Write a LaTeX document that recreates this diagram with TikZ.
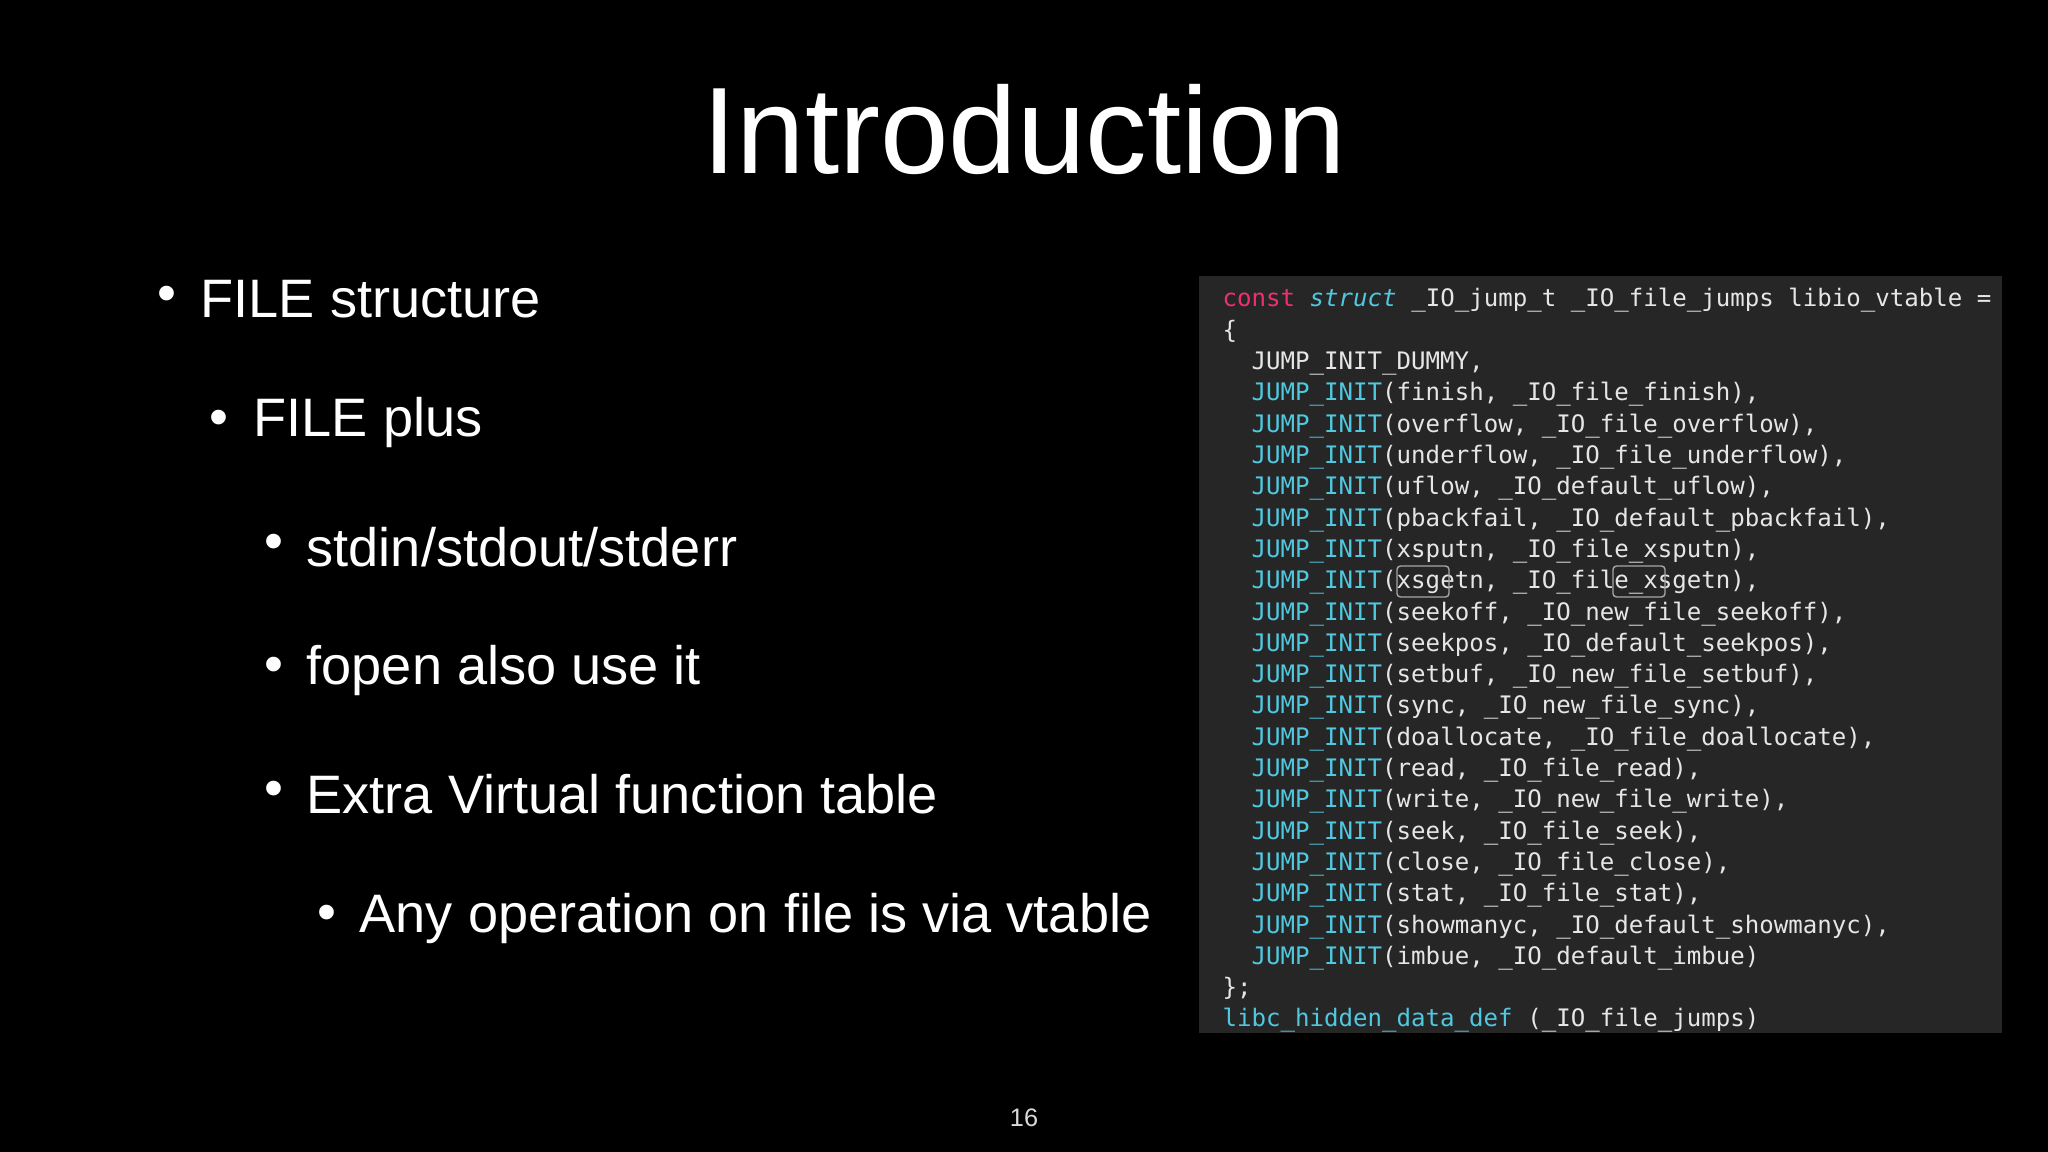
\documentclass[tikz,border=0pt]{standalone}
\usepackage{fontspec}
\setmainfont{Liberation Sans}
\setmonofont{DejaVu Sans Mono}
\usepackage{tikz}
\definecolor{codebg}{HTML}{262626}
\definecolor{codefg}{HTML}{E6E6E6}
\definecolor{keyc}{HTML}{F0306E}
\definecolor{jumpc}{HTML}{4FC8E0}
\newcommand\J{\textcolor{jumpc}{JUMP\_INIT}}
\tikzset{
  item/.style={anchor=west,inner sep=0pt,text=white,font=\fontsize{15.4}{18}\selectfont},
  codeline/.style={anchor=base west,inner sep=0pt,text=codefg,font=\ttfamily\fontsize{6.85}{8}\selectfont},
}
\begin{document}
\begin{tikzpicture}[x=0.01cm,y=-0.01cm]
\fill[black] (0,0) rectangle (2048,1152);
\useasboundingbox (0,0) rectangle (2048,1152);
% title and page number
\node[text=white,font=\fontsize{35}{40}\selectfont] (title) at (1024,130) {Introduction};
\node[text=white!85!black,font=\fontsize{7.2}{9}\selectfont] (page) at (1024,1118) {16};
% bullets
\foreach \bx/\tx/\y/\t [count=\i] in {
  157/200/299/{FILE structure},
  209/253/423/{FILE plus},
  264/306/547/{stdin/stdout/stderr},
  264/306/670/{fopen also use it},
  264/306/794/{Extra Virtual function table},
  317/359/918/{Any operation on file is via vtable}}
{
  \node[item] (dot\i) at (\bx,\y) {\textbullet};
  \node[item] (item\i) at (\tx,\y) {\t};
}
% code box
\fill[codebg] (1199,276) rectangle (2002,1033);
\node[codeline] (l0) at (1222,307) {\textcolor{keyc}{const} \textcolor{jumpc}{\itshape struct} \_IO\_jump\_t \_IO\_file\_jumps libio\_vtable =};
\node[codeline] (l1) at (1222,338.3) {\{};
\foreach \t [count=\i from 2] in {
  {JUMP\_INIT\_DUMMY,},
  {\J(finish, \_IO\_file\_finish),},
  {\J(overflow, \_IO\_file\_overflow),},
  {\J(underflow, \_IO\_file\_underflow),},
  {\J(uflow, \_IO\_default\_uflow),},
  {\J(pbackfail, \_IO\_default\_pbackfail),},
  {\J(xsputn, \_IO\_file\_xsputn),},
  {\J(xsgetn, \_IO\_file\_xsgetn),},
  {\J(seekoff, \_IO\_new\_file\_seekoff),},
  {\J(seekpos, \_IO\_default\_seekpos),},
  {\J(setbuf, \_IO\_new\_file\_setbuf),},
  {\J(sync, \_IO\_new\_file\_sync),},
  {\J(doallocate, \_IO\_file\_doallocate),},
  {\J(read, \_IO\_file\_read),},
  {\J(write, \_IO\_new\_file\_write),},
  {\J(seek, \_IO\_file\_seek),},
  {\J(close, \_IO\_file\_close),},
  {\J(stat, \_IO\_file\_stat),},
  {\J(showmanyc, \_IO\_default\_showmanyc),},
  {\J(imbue, \_IO\_default\_imbue)}}
{
  \node[codeline] (l\i) at (1251,307+31.3*\i) {\t};
}
\node[codeline] (l22) at (1222,307+31.3*22) {\};};
\node[codeline] (l23) at (1222,307+31.3*23) {\textcolor{jumpc}{libc\_hidden\_data\_def} (\_IO\_file\_jumps)};
% match marks
\draw[gray!70,line width=0.4pt,rounded corners=1pt] (1397,566) rectangle (1449,597);
\draw[gray!70,line width=0.4pt,rounded corners=1pt] (1613,566) rectangle (1665,597);
\end{tikzpicture}
\end{document}
